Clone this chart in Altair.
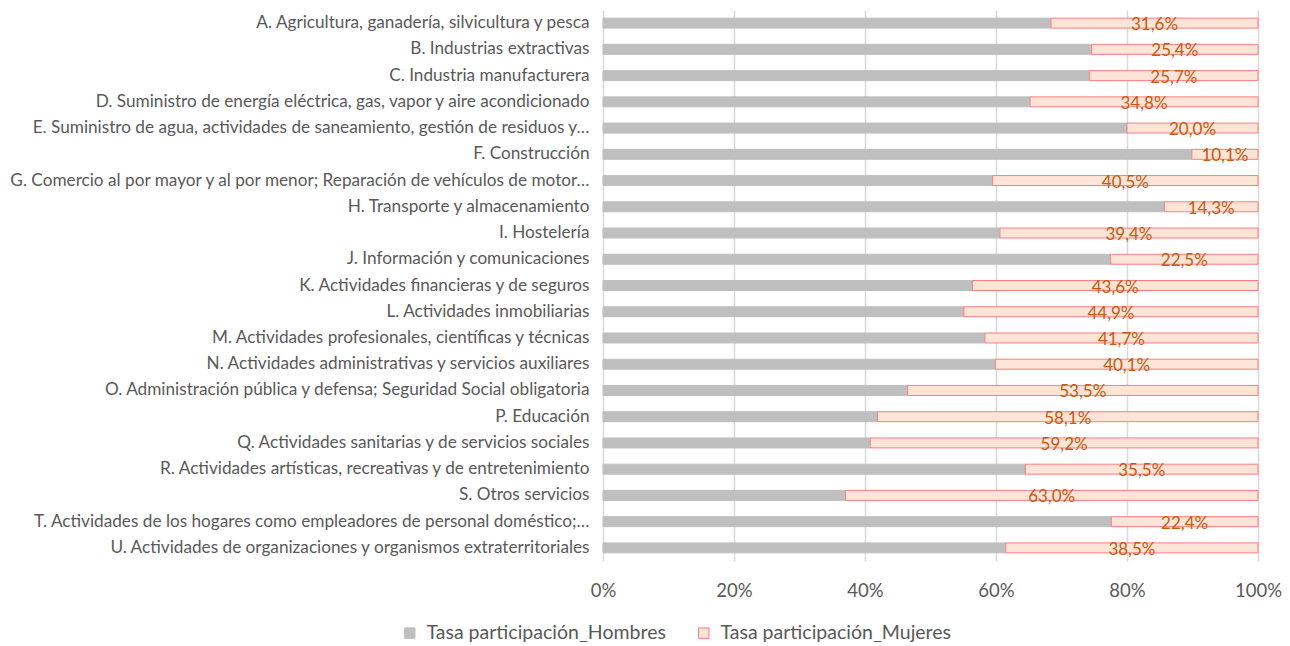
import altair as alt
import pandas as pd

categories = [
    "A. Agricultura, ganadería, silvicultura y pesca",
    "B. Industrias extractivas",
    "C. Industria manufacturera",
    "D. Suministro de energía eléctrica, gas, vapor y aire acondicionado",
    "E. Suministro de agua, actividades de saneamiento, gestión de residuos y…",
    "F. Construcción",
    "G. Comercio al por mayor y al por menor; Reparación de vehículos de motor…",
    "H. Transporte y almacenamiento",
    "I. Hostelería",
    "J. Información y comunicaciones",
    "K. Actividades financieras y de seguros",
    "L. Actividades inmobiliarias",
    "M. Actividades profesionales, científicas y técnicas",
    "N. Actividades administrativas y servicios auxiliares",
    "O. Administración pública y defensa; Seguridad Social obligatoria",
    "P. Educación",
    "Q. Actividades sanitarias y de servicios sociales",
    "R. Actividades artísticas, recreativas y de entretenimiento",
    "S. Otros servicios",
    "T. Actividades de los hogares como empleadores de personal doméstico;…",
    "U. Actividades de organizaciones y organismos extraterritoriales",
]
mujeres = [31.6, 25.4, 25.7, 34.8, 20.0, 10.1, 40.5, 14.3, 39.4, 22.5, 43.6,
           44.9, 41.7, 40.1, 53.5, 58.1, 59.2, 35.5, 63.0, 22.4, 38.5]
hombres = [round(100 - m, 1) for m in mujeres]
series = ["Tasa participación_Hombres", "Tasa participación_Mujeres"]

rows = []
for c, h, m in zip(categories, hombres, mujeres):
    rows.append({"cat": c, "serie": series[0], "value": h, "ord": 0, "start": 0, "end": h})
    rows.append({"cat": c, "serie": series[1], "value": m, "ord": 1, "start": h, "end": 100})
df = pd.DataFrame(rows)

FONT = "Lato"
GREY = "#595959"

y_enc = alt.Y("cat:N", sort=categories, title=None,
              scale=alt.Scale(paddingInner=0.62, paddingOuter=0.31),
              axis=alt.Axis(labelFontSize=17.2, labelColor=GREY, labelFont=FONT,
                            labelPadding=14, labelLimit=800, ticks=False, domain=False,
                            grid=False))

bars = alt.Chart(df).mark_bar(strokeWidth=1).encode(
    y=y_enc,
    x=alt.X("start:Q", title=None,
            scale=alt.Scale(domain=[0, 100], nice=False),
            axis=alt.Axis(values=[0, 20, 40, 60, 80, 100], labelExpr="datum.value + '%'",
                          labelFontSize=18.5, labelColor=GREY, labelFont=FONT, labelPadding=20,
                          labelFlush=False,
                          ticks=False, domain=False, grid=True, gridColor="#D9D9D9",
                          gridWidth=1.5)),
    x2="end:Q",
    color=alt.Color("serie:N", title=None,
                    scale=alt.Scale(domain=series, range=["#BFBFBF", "#FCE4D6"]),
                    legend=alt.Legend(orient="none", direction="horizontal",
                                      legendX=-203, legendY=613, symbolType="square",
                                      symbolSize=110, symbolStrokeWidth=1,
                                      labelFontSize=19.5, labelColor=GREY, labelFont=FONT,
                                      labelLimit=500, labelOffset=7,
                                      columnPadding=28, symbolOffset=0)),
    stroke=alt.Stroke("serie:N", title=None,
                      scale=alt.Scale(domain=series, range=["#BFBFBF", "#FF7C80"]),
                      legend=None),
    order="ord:Q",
)

labels = alt.Chart(df).transform_filter(
    alt.datum.ord == 1
).transform_calculate(
    mid="datum.start + datum.value / 2",
    txt="replace(format(datum.value, '.1f'), '.', ',') + '%'",
).mark_text(fontSize=17, color="#C55A11", font=FONT, baseline="middle", dy=2).encode(
    y=alt.Y("cat:N", sort=categories),
    x=alt.X("mid:Q"),
    text="txt:N",
)

chart = alt.layer(bars, labels).properties(
    width=655, height=551,
    autosize=alt.AutoSizeParams(type="none"),
    padding={"left": 595, "top": 2, "right": 24, "bottom": 81},
).configure_view(stroke=None)

chart.save("out.html", embed_options={"renderer": "svg", "actions": False})
